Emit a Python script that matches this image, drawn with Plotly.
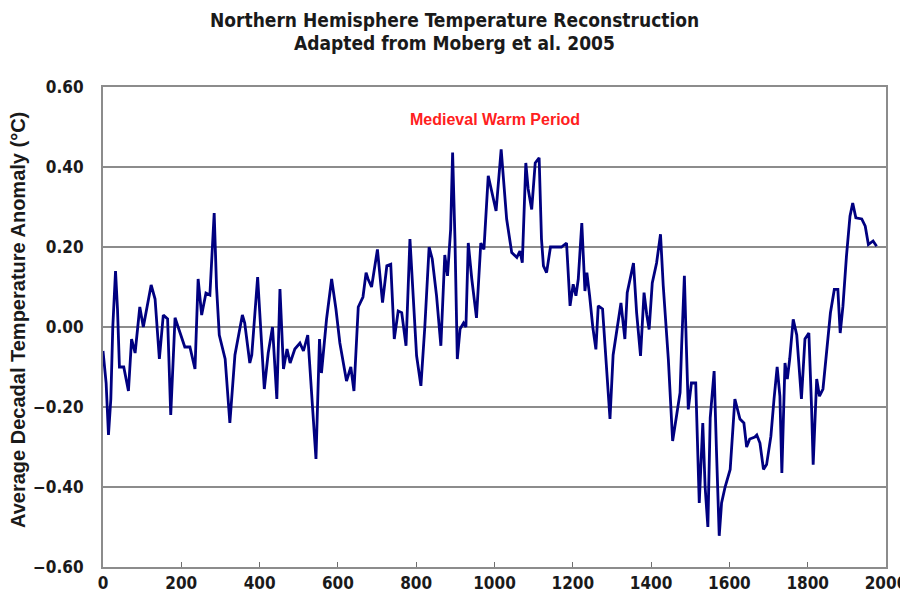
import plotly.graph_objects as go

years = [0, 8, 14, 20, 25, 32, 37, 42, 49, 53, 65, 73, 82, 94, 103, 111, 123, 133, 144, 154,
         165, 173, 184, 197, 209, 222, 235, 243, 252, 263, 273, 284, 290, 297, 312, 324, 337, 356, 362, 375,
         380, 395, 403, 412, 422, 433, 444, 452, 461, 470, 478, 490, 503, 512, 523, 533, 544, 553, 558, 571,
         584, 595, 605, 622, 633, 641, 652, 664, 672, 677, 686, 701, 714, 725, 735, 744, 754, 763, 774, 784,
         791, 801, 812, 822, 833, 841, 852, 863, 873, 880, 888, 893, 899, 905, 912, 921, 927, 933, 942, 954,
         965, 973, 984, 997, 1004, 1017, 1023, 1031, 1044, 1057, 1065, 1071, 1080, 1086, 1095, 1104, 1114, 1120, 1125, 1133,
         1143, 1158, 1171, 1184, 1193, 1201, 1208, 1214, 1223, 1231, 1236, 1243, 1251, 1259, 1265, 1276, 1284, 1295, 1303, 1323,
         1333, 1339, 1355, 1363, 1373, 1382, 1389, 1395, 1403, 1414, 1424, 1431, 1444, 1455, 1465, 1474, 1478, 1485, 1490, 1495,
         1503, 1514, 1523, 1528, 1532, 1538, 1545, 1551, 1561, 1567, 1574, 1580, 1589, 1602, 1614, 1627, 1637, 1644, 1652, 1665,
         1670, 1678, 1687, 1695, 1706, 1714, 1722, 1729, 1734, 1742, 1748, 1754, 1763, 1772, 1784, 1793, 1803, 1810, 1814, 1823,
         1830, 1839, 1847, 1858, 1868, 1877, 1883, 1890, 1899, 1908, 1915, 1923, 1938, 1947, 1955, 1967, 1976]

anomaly = [-0.06, -0.14, -0.27, -0.18, 0.0, 0.14, 0.045, -0.10, -0.10, -0.10, -0.16, -0.03, -0.065, 0.05, 0.0, 0.04, 0.105, 0.07, -0.08, 0.03,
           0.02, -0.22, 0.023, -0.015, -0.05, -0.05, -0.105, 0.12, 0.03, 0.085, 0.08, 0.285, 0.10, -0.02, -0.08, -0.24, -0.07, 0.03, 0.01, -0.09,
           -0.07, 0.125, 0.0, -0.155, -0.065, 0.0, -0.18, 0.095, -0.105, -0.055, -0.09, -0.055, -0.04, -0.06, -0.02, -0.18, -0.33, -0.03, -0.115, 0.02,
           0.12, 0.045, -0.04, -0.135, -0.10, -0.16, 0.05, 0.075, 0.136, 0.12, 0.10, 0.194, 0.061, 0.153, 0.157, -0.03, 0.04, 0.036, -0.047, 0.22,
           0.086, -0.072, -0.147, 0.0, 0.20, 0.17, 0.078, -0.047, 0.18, 0.128, 0.244, 0.436, 0.22, -0.08, -0.005, 0.01, 0.0, 0.21, 0.12, 0.023,
           0.21, 0.194, 0.378, 0.32, 0.29, 0.444, 0.37, 0.27, 0.186, 0.174, 0.19, 0.161, 0.41, 0.345, 0.294, 0.41, 0.423, 0.22, 0.153, 0.136,
           0.20, 0.20, 0.20, 0.21, 0.053, 0.107, 0.078, 0.12, 0.26, 0.09, 0.136, 0.078, 0.0, -0.056, 0.053, 0.045, -0.07, -0.23, -0.07, 0.06,
           -0.03, 0.086, 0.16, 0.036, -0.072, 0.086, 0.03, -0.006, 0.11, 0.16, 0.232, 0.103, -0.08, -0.285, -0.222, -0.164, -0.047, 0.128, -0.047, -0.206,
           -0.14, -0.14, -0.44, -0.314, -0.24, -0.40, -0.50, -0.227, -0.11, -0.31, -0.522, -0.44, -0.40, -0.356, -0.18, -0.23, -0.24, -0.30, -0.28, -0.275,
           -0.27, -0.29, -0.356, -0.344, -0.273, -0.18, -0.10, -0.173, -0.365, -0.09, -0.13, -0.08, 0.019, -0.02, -0.18, -0.03, -0.015, -0.206, -0.344, -0.13,
           -0.173, -0.155, -0.072, 0.035, 0.094, 0.094, -0.015, 0.052, 0.177, 0.277, 0.31, 0.273, 0.27, 0.252, 0.206, 0.215, 0.202]

x_ticks = [0, 200, 400, 600, 800, 1000, 1200, 1400, 1600, 1800, 2000]
y_ticks = [-0.6, -0.4, -0.2, 0.0, 0.2, 0.4, 0.6]

title_line1 = "Northern Hemisphere Temperature Reconstruction"
title_line2 = "Adapted from Moberg et al. 2005"
y_title = "Average Decadal Temperature Anomaly (°C)"
annotation_text = "Medieval Warm Period"

narrow = "Liberation Sans Narrow, DejaVu Sans Condensed, Liberation Sans, Arial, sans-serif"
regular = "Liberation Sans, Arial, sans-serif"
txt = "#1a1a1a"

# page body has an 8px margin, so the figure is drawn 8px in from the window's corner
PLOT_H = 480
PLOT_W = 783

fig = go.Figure()
fig.add_trace(go.Scatter(
    x=years, y=anomaly, mode="lines",
    line=dict(color="#000080", width=2.8),
    showlegend=False, hoverinfo="skip",
))

fig.add_annotation(
    x=1000, y=0.52, xref="x", yref="y", text=annotation_text,
    showarrow=False, font=dict(family=regular, size=16, color="#ff2020", weight="bold"),
)
fig.add_annotation(
    x=(454 - 103) / PLOT_W, y=1 + 67 / PLOT_H, xref="paper", yref="paper", text=title_line1,
    showarrow=False, xanchor="center", yanchor="middle",
    font=dict(family=narrow, size=19, color=txt, weight="bold"),
)
fig.add_annotation(
    x=(454 - 103) / PLOT_W, y=1 + 44 / PLOT_H, xref="paper", yref="paper", text=title_line2,
    showarrow=False, xanchor="center", yanchor="middle",
    font=dict(family=narrow, size=19, color=txt, weight="bold"),
)
fig.add_annotation(
    x=-85 / PLOT_W, y=(567 - 320) / PLOT_H, xref="paper", yref="paper", text=y_title,
    showarrow=False, textangle=-90, xanchor="center", yanchor="middle",
    font=dict(family=regular, size=20, color=txt, weight="bold"),
)

fig.update_layout(
    width=900, height=597,
    paper_bgcolor="white", plot_bgcolor="white",
    margin=dict(l=95, r=22, t=79, b=38),
    xaxis=dict(range=[0, 2000], tickvals=x_ticks, ticktext=[str(v) for v in x_ticks],
               showgrid=False, zeroline=False, automargin=False,
               showline=True, linecolor="#8c8c8c", linewidth=2, mirror=True,
               ticks="inside", ticklen=5, tickcolor="#6e6e6e", tickwidth=1,
               tickfont=dict(family=narrow, size=17, color=txt, weight="bold"),
               fixedrange=True),
    yaxis=dict(range=[-0.6, 0.6], tickvals=y_ticks, tickformat=".2f",
               showgrid=True, gridcolor="#8c8c8c", gridwidth=1.5, zeroline=False,
               automargin=False,
               showline=True, linecolor="#8c8c8c", linewidth=2, mirror=True,
               ticks="", ticklabelstandoff=14,
               tickfont=dict(family=narrow, size=17, color=txt, weight="bold"),
               fixedrange=True),
)

fig.write_html("out.html")
